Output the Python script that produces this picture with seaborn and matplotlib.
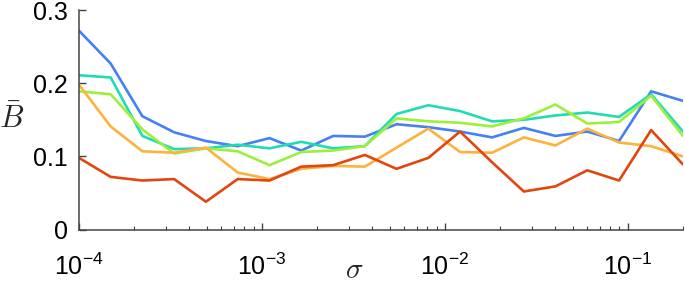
import numpy as np
import pandas as pd
import matplotlib
matplotlib.use("Agg")
import matplotlib.pyplot as plt
from matplotlib.ticker import LogLocator, FixedLocator, FuncFormatter
import seaborn as sns

# sigma values (log spaced)
sigma = [1.0e-4, 1.49e-4, 2.22e-4, 3.31e-4, 4.94e-4, 7.37e-4, 1.10e-3, 1.64e-3,
         2.45e-3, 3.65e-3, 5.44e-3, 8.12e-3, 1.21e-2, 1.81e-2, 2.70e-2, 4.02e-2,
         6.0e-2, 8.95e-2, 1.34e-1, 2.0e-1]

# mean B for each curve
blue = [0.272, 0.227, 0.155, 0.133, 0.121, 0.114, 0.125, 0.108, 0.128, 0.127,
        0.144, 0.140, 0.134, 0.126, 0.139, 0.128, 0.134, 0.121, 0.189, 0.176]
teal = [0.211, 0.208, 0.128, 0.110, 0.111, 0.116, 0.111, 0.120, 0.111, 0.114,
        0.158, 0.170, 0.162, 0.148, 0.150, 0.156, 0.160, 0.154, 0.185, 0.134]
green = [0.189, 0.185, 0.137, 0.104, 0.111, 0.107, 0.088, 0.106, 0.108, 0.114,
         0.152, 0.148, 0.146, 0.141, 0.152, 0.171, 0.145, 0.147, 0.183, 0.128]
orange = [0.198, 0.141, 0.107, 0.105, 0.112, 0.078, 0.069, 0.083, 0.087, 0.086,
          0.112, 0.138, 0.106, 0.105, 0.126, 0.115, 0.138, 0.119, 0.114, 0.100]
red = [0.098, 0.072, 0.067, 0.069, 0.038, 0.069, 0.067, 0.086, 0.088, 0.102,
       0.083, 0.098, 0.134, 0.092, 0.052, 0.059, 0.081, 0.067, 0.136, 0.089]

names = ["blue", "teal", "green", "orange", "red"]
colors = ["#4580F4", "#22DAB4", "#9CF03C", "#FDB23C", "#E2460F"]

df = pd.concat([pd.DataFrame({"sigma": sigma, "B": vals, "curve": n})
                for n, vals in zip(names, [blue, teal, green, orange, red])])

sns.set_style("ticks")
plt.rcParams["font.family"] = ["Liberation Sans", "DejaVu Sans"]
plt.rcParams["mathtext.fontset"] = "cm"

fig = plt.figure(figsize=(6.85, 2.83), dpi=100)
ax = fig.add_axes([0.1153, 0.189, 0.8817, 0.775])

sns.lineplot(data=df, x="sigma", y="B", hue="curve", palette=dict(zip(names, colors)),
             linewidth=1.9, legend=False, ax=ax)

ax.set_xscale("log")
ax.set_xlim(1e-4, 0.2)
ax.set_ylim(0, 0.3)
ax.set_yticks([0, 0.1, 0.2, 0.3])
ax.yaxis.set_major_formatter(FuncFormatter(lambda v, p: "0" if v == 0 else f"{v:.1f}"))
ax.xaxis.set_major_locator(FixedLocator([1e-4, 1e-3, 1e-2, 1e-1]))
ax.xaxis.set_minor_locator(LogLocator(base=10, subs=np.arange(2, 10)))
ax.xaxis.set_major_formatter(FuncFormatter(
    lambda v, p: r"$\mathregular{10^{%d}}$" % int(round(np.log10(v)))))

ax.tick_params(axis="both", which="both", direction="in", colors="#444444",
               labelcolor="black", labelsize=18)
ax.tick_params(axis="both", which="major", length=5, width=1)
ax.tick_params(axis="x", which="minor", length=3, width=0.8)
ax.tick_params(axis="x", which="major", pad=17)
ax.tick_params(axis="y", which="major", pad=8)

for s in ["top", "right"]:
    ax.spines[s].set_visible(False)
for s in ["left", "bottom"]:
    ax.spines[s].set_color("#444444")
    ax.spines[s].set_linewidth(1.1)

ax.set_xlabel(r"$\sigma$", fontsize=21, va="center")
ax.xaxis.set_label_coords(0.455, -0.185)
ax.set_ylabel(r"$\bar{B}$", fontsize=22, rotation=0, va="center", ha="center")
ax.yaxis.set_label_coords(-0.111, 0.5)

fig.savefig("out.png", dpi=100)
